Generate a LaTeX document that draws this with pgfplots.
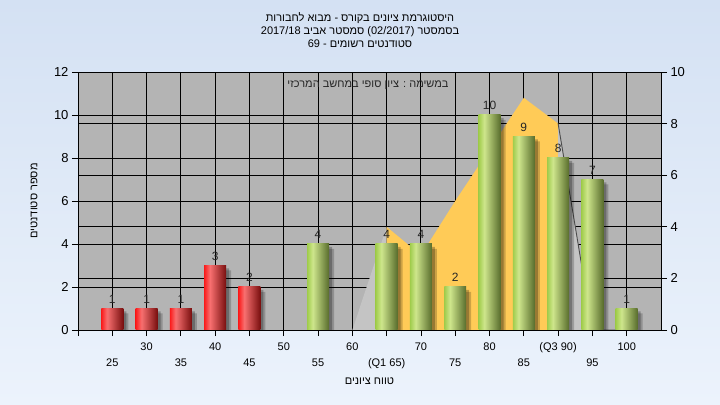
\documentclass[border=0pt]{standalone}
\usepackage{fontspec}
\setmainfont{Liberation Sans}
\newfontfamily\heb[Script=Hebrew]{Liberation Sans}
\usepackage{pgfplots}
\pgfplotsset{compat=1.18}
\TeXXeTstate=1
\definecolor{bgtop}{RGB}{212,225,243}
\definecolor{bgbot}{RGB}{236,243,252}
\definecolor{plotbg}{RGB}{180,180,180}
\definecolor{areay}{RGB}{255,203,87}
\definecolor{grayarea}{RGB}{196,196,196}
\definecolor{rA}{RGB}{250,28,28}
\definecolor{rB}{RGB}{248,112,112}
\definecolor{rC}{RGB}{120,14,14}
\definecolor{gA}{RGB}{160,204,76}
\definecolor{gB}{RGB}{206,230,140}
\definecolor{gC}{RGB}{88,108,44}
\pgfdeclarehorizontalshading{redbar}{100bp}{color(0bp)=(rA); color(25bp)=(rA); color(38bp)=(rB); color(75bp)=(rC); color(100bp)=(rC)}
\pgfdeclarehorizontalshading{greenbar}{100bp}{color(0bp)=(gA); color(25bp)=(gA); color(38bp)=(gB); color(75bp)=(gC); color(100bp)=(gC)}
\begin{document}
\begin{tikzpicture}
\shade[top color=bgtop,bottom color=bgbot] (0,0) rectangle (720bp,405bp);
\fill[plotbg] (78bp,75bp) rectangle (661bp,333bp);
\pgfplotsset{common/.style={at={(78bp,75bp)}, anchor=south west, scale only axis,
  width=583bp, height=258bp, xmin=20, xmax=105,
  /pgf/number format/assume math mode=true,
  tick align=outside, major tick length=6bp, minor tick length=0pt,
  tick style={black, line width=0.8bp},
  grid style={black, line width=0.9bp},
  axis line style={black, line width=0.9bp},
  xticklabel style={font=\fontsize{11bp}{13bp}\selectfont},
  yticklabel style={font=\fontsize{13bp}{15bp}\selectfont}},
  rbar/.style={ybar, bar width=3.2, bar shift=0pt, shading=redbar, draw=none, nodes near coords},
  gbar/.style={ybar, bar width=3.2, bar shift=0pt, shading=greenbar, draw=none, nodes near coords}}
% axis A: left y, grids, first row of x labels
\begin{axis}[common, ymin=0, ymax=12, ytick={0,2,...,12}, ytick pos=left, xtick pos=lower,
  xtick={20,25,...,100},
  xticklabels={,,30,,40,,50,,60,,70,,80,,(Q3 90),,100},
  xticklabel style={yshift=-3bp},
  ymajorgrids, xmajorgrids,
  xlabel={\heb\beginR טווח ציונים\endR},
  ylabel={\heb\beginR מספר סטודנטים\endR},
  every axis x label/.style={at={(rel axis cs:0.5,0)}, yshift=-51bp, anchor=center, font=\fontsize{11bp}{13bp}\selectfont},
  every axis y label/.style={at={(rel axis cs:0,0.5)}, xshift=-44bp, rotate=90, anchor=center, font=\fontsize{11bp}{13bp}\selectfont}]
\end{axis}
% axis B: right y, area
\begin{axis}[common, ymin=0, ymax=10, ytick={0,2,...,10}, axis y line*=right, axis x line=none, ymajorgrids]
\addplot[fill=grayarea, draw=none] coordinates {(60,0) (65,4) (65,0)};
\addplot[fill=areay, draw=none] coordinates {(65,0) (65,4) (70,2.9) (75,5) (80,7) (85,9) (90,8) (90,0)};
\addplot[fill=grayarea, draw=none] coordinates {(90,0) (90,8) (95,0)};
\addplot[draw=black!70, line width=0.9bp] coordinates {(90,8) (95,0) (100,0)};
\end{axis}
% axis C: bars, second row of x labels
\begin{axis}[common, ymin=0, ymax=12, axis on top, ytick=\empty,
  xtick={25,35,...,95}, xticklabels={25,35,45,55,(Q1 65),75,85,95},
  xtick pos=lower, major tick length=0pt, xticklabel style={yshift=-25bp},
  nodes near coords style={anchor=south, inner sep=0pt, yshift=5bp, text=black!85, font=\fontsize{12bp}{14bp}\selectfont}]
\addplot[ybar, bar width=3.2, bar shift=5bp, fill=black, opacity=0.2, draw=none, yshift=-5bp]
 coordinates {(25,1) (30,1) (35,1) (40,3) (45,2) (55,4) (65,4) (70,4) (75,2) (80,10) (85,9) (90,8) (95,7) (100,1)};
\addplot[ybar, bar width=3.2, bar shift=3bp, fill=black, opacity=0.25, draw=none, yshift=-3bp]
 coordinates {(25,1) (30,1) (35,1) (40,3) (45,2) (55,4) (65,4) (70,4) (75,2) (80,10) (85,9) (90,8) (95,7) (100,1)};
\addplot[rbar] coordinates {(25,1)};
\addplot[rbar] coordinates {(30,1)};
\addplot[rbar] coordinates {(35,1)};
\addplot[rbar] coordinates {(40,3)};
\addplot[rbar] coordinates {(45,2)};
\addplot[gbar] coordinates {(55,4)};
\addplot[gbar] coordinates {(65,4)};
\addplot[gbar] coordinates {(70,4)};
\addplot[gbar] coordinates {(75,2)};
\addplot[gbar] coordinates {(80,10)};
\addplot[gbar] coordinates {(85,9)};
\addplot[gbar] coordinates {(90,8)};
\addplot[gbar] coordinates {(95,7)};
\addplot[gbar] coordinates {(100,1)};
\end{axis}
\node[align=center, inner sep=0pt, font=\heb\fontsize{11bp}{13bp}\selectfont] at (360bp,375bp)
 {\beginR היסטוגרמת ציונים בקורס - מבוא לחבורות\endR\\
  \beginR בסמסטר \beginL(02/2017)\endL{} סמסטר אביב \beginL2017/18\endL\endR\\
  \beginR סטודנטים רשומים - \beginL 69\endL\endR};
\node[inner sep=0pt, font=\heb\fontsize{11bp}{13bp}\selectfont, text=black!85] at (368bp,320bp)
 {\beginR במשימה : ציון סופי במחשב המרכזי\endR};
\end{tikzpicture}
\end{document}
